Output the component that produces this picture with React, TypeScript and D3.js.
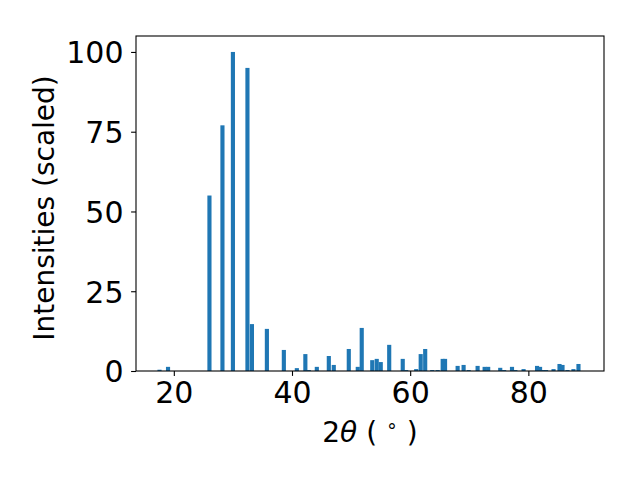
import React, { Component } from 'react';
import * as d3 from 'd3';

// 2theta positions (deg) and scaled intensities
const twoTheta = [
    17.58, 19.02, 26.03, 28.23, 30.0, 32.46, 33.22, 35.75, 38.62, 40.82,
    42.26, 42.85, 44.2, 46.23, 47.07, 49.61, 51.13, 51.8, 53.58, 54.34,
    55.02, 56.45, 58.74, 59.33, 61.02, 61.78, 62.54, 63.73, 64.65, 65.5,
    65.9, 68.03, 69.04, 69.9, 71.41, 72.6, 73.2, 75.24, 75.9, 77.23,
    77.8, 79.19, 81.47, 81.98, 82.5, 83.0, 84.26, 85.27, 85.78, 86.62,
    87.63, 88.48
];
const intensity = [
    0.4, 1.3, 55, 77, 100, 95, 14.7, 13.2, 6.6, 0.9,
    5.3, 0.3, 1.3, 4.7, 1.9, 6.9, 1.3, 13.5, 3.4, 3.8,
    2.8, 8.2, 3.8, 0.3, 0.6, 5.3, 6.9, 0.3, 0.3, 3.8,
    3.8, 1.6, 1.9, 0.3, 1.6, 1.3, 1.3, 1.0, 0.3, 1.3,
    0.3, 0.6, 1.6, 1.3, 0.3, 0.3, 0.6, 2.2, 1.9, 0.3,
    0.6, 2.2
];
const xTicks = [20, 40, 60, 80];
const yTicks = [0, 25, 50, 75, 100];

class App extends Component {
    componentDidMount() {
        d3.select('body').style('margin', '0px');

        const width = 640,
            height = 480;
        const left = 136, right = 604, top = 36, bottom = 371;
        const barWidth = 0.7;
        const font = 'DejaVu Sans';
        const tickSize = 30;
        const labelSize = 28;

        const svg = d3.select('#xrd')
            .append('svg')
            .attr('width', width)
            .attr('height', height)
            .style('display', 'block')
            .style('background', '#fff');

        // x 轴比例尺
        const xScale = d3.scaleLinear()
            .domain([13.6, 92.8])
            .range([left, right]);

        // y 轴比例尺
        const yScale = d3.scaleLinear()
            .domain([0, 105])
            .range([bottom, top]);

        const data = twoTheta.map((t, i) => ({ t: t, v: intensity[i] }));

        // bars
        svg.append('g')
            .selectAll('rect')
            .data(data)
            .enter()
            .append('rect')
            .attr('x', d => xScale(d.t - barWidth / 2))
            .attr('y', d => yScale(d.v))
            .attr('width', d => xScale(d.t + barWidth / 2) - xScale(d.t - barWidth / 2))
            .attr('height', d => yScale(0) - yScale(d.v))
            .attr('fill', '#1f77b4');

        // x 轴
        const xAxis = svg.append('g')
            .attr('transform', 'translate(0,' + bottom + ')')
            .call(d3.axisBottom(xScale).tickValues(xTicks).tickSize(4.9).tickPadding(4.9).tickFormat(d3.format('d')));

        // y 轴
        const yAxis = svg.append('g')
            .attr('transform', 'translate(' + left + ',0)')
            .call(d3.axisLeft(yScale).tickValues(yTicks).tickSize(4.9).tickPadding(4.9).tickFormat(d3.format('d')));

        [xAxis, yAxis].forEach(ax => {
            ax.select('.domain').remove();
            ax.selectAll('line').attr('stroke', '#000').attr('stroke-width', 1.1);
            ax.selectAll('text')
                .attr('fill', '#000')
                .style('font-family', font)
                .style('font-size', tickSize + 'px');
        });
        xAxis.selectAll('text').attr('dy', null).attr('y', 31.5);
        yAxis.selectAll('text').attr('dy', '0.36em').attr('x', -12.5);

        // 边框
        svg.append('rect')
            .attr('x', left)
            .attr('y', top)
            .attr('width', right - left)
            .attr('height', bottom - top)
            .attr('fill', 'none')
            .attr('stroke', '#000')
            .attr('stroke-width', 1.1);

        // x label: 2θ (°)
        const xl = svg.append('text')
            .attr('x', (left + right) / 2)
            .attr('y', 442)
            .attr('text-anchor', 'middle')
            .style('font-family', font)
            .style('font-size', labelSize + 'px');
        xl.append('tspan').text('2');
        xl.append('tspan').style('font-style', 'italic').text('θ');
        xl.append('tspan').text(' ( ');
        xl.append('tspan').attr('dy', -10).style('font-size', '19px').text('∘');
        xl.append('tspan').attr('dy', 10).text(' )');

        // y label
        svg.append('text')
            .attr('transform', 'translate(54,208) rotate(-90)')
            .attr('text-anchor', 'middle')
            .style('font-family', font)
            .style('font-size', labelSize + 'px')
            .text('Intensities (scaled)');
    }

    render() {
        return <div id="xrd"></div>;
    }
}

export default App;
